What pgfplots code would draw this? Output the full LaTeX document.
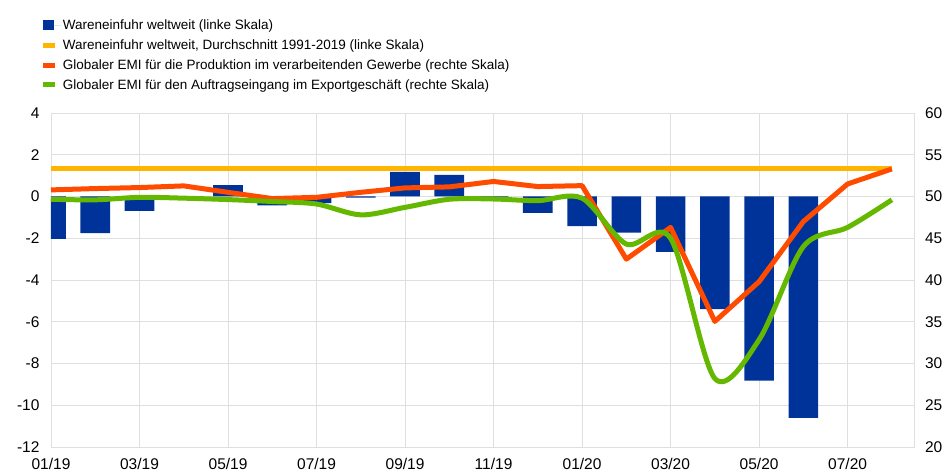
\documentclass[border=0pt]{standalone}
\usepackage{fontspec}
\setmainfont{Liberation Sans}
\usepackage{pgfplots}
\pgfplotsset{compat=1.18}

\definecolor{ecbblue}{RGB}{0,51,153}
\definecolor{ecbyellow}{RGB}{255,180,0}
\definecolor{ecborange}{RGB}{255,75,0}
\definecolor{ecbgreen}{RGB}{101,184,0}

\pgfplotsset{
  ecb/.style={
    scale only axis, width=863pt, height=334pt,
    xmin=0, xmax=19.5,
    tick style={draw=none},
    tick label style={font=\fontsize{15.5}{17}\selectfont},
    xticklabel style={yshift=-8pt},
    /pgf/number format/assume math mode=true,
  },
}

\begin{document}
\begin{tikzpicture}
\useasboundingbox (-51pt,-26pt) rectangle (894pt,447pt);
% left scale: imports (bars) and long-run average
\begin{axis}[ecb,
    ymin=-12, ymax=4, ytick={-12,-10,...,4},
    yticklabel style={xshift=-8pt},
    xtick={0,2,...,18},
    xticklabels={01/19,03/19,05/19,07/19,09/19,11/19,01/20,03/20,05/20,07/20},
    grid=major, grid style={gray!25, line width=0.8pt},
    axis line style={gray!25, line width=0.8pt},
    legend style={at={(-0.016,1.292)}, anchor=north west, draw=none, fill=none,
      font=\fontsize{13.5}{16}\selectfont, row sep=4.6pt},
    legend cell align=left,
  ]
  \addplot[ybar, bar width=0.67, fill=ecbblue, draw=none,
    legend image code/.code={\path[draw=none] (0pt,0pt) -- (18pt,0pt);
      \fill[ecbblue] (0pt,-5pt) rectangle (11pt,5.5pt);}]
    coordinates {(0,-2.03) (1,-1.76) (2,-0.69) (3,-0.05) (4,0.54) (5,-0.42)
      (6,-0.32) (7,-0.05) (8,1.18) (9,1.03) (10,-0.10) (11,-0.79) (12,-1.42)
      (13,-1.73) (14,-2.65) (15,-5.39) (16,-8.82) (17,-10.61)};
  \addlegendentry{Wareneinfuhr weltweit (linke Skala)}
  \addplot[ecbyellow, line width=5pt,
    legend image code/.code={\path[draw=none] (0pt,0pt) -- (18pt,0pt);
      \draw[ecbyellow, line width=5pt] (0pt,0pt) -- (12pt,0pt);}]
    coordinates {(0,1.35) (19,1.35)};
  \addlegendentry{Wareneinfuhr weltweit, Durchschnitt 1991-2019 (linke Skala)}
  \addlegendimage{legend image code/.code={\path[draw=none] (0pt,0pt) -- (18pt,0pt);
      \draw[ecborange, line width=5pt] (0pt,0pt) -- (12pt,0pt);}}
  \addlegendentry{Globaler EMI für die Produktion im verarbeitenden Gewerbe (rechte Skala)}
  \addlegendimage{legend image code/.code={\path[draw=none] (0pt,0pt) -- (18pt,0pt);
      \draw[ecbgreen, line width=5pt] (0pt,0pt) -- (12pt,0pt);}}
  \addlegendentry{Globaler EMI für den Auftragseingang im Exportgeschäft (rechte Skala)}
\end{axis}
% right scale: PMIs
\begin{axis}[ecb,
    ymin=20, ymax=60, ytick={20,25,...,60},
    yticklabel style={xshift=7.5pt},
    axis x line=none, axis y line*=right,
    y axis line style={draw=none},
  ]
  \addplot[ecborange, line width=5pt, line join=round]
    coordinates {(0,50.79) (1,50.95) (2,51.07) (3,51.27) (4,50.5) (5,49.75)
      (6,49.9) (7,50.5) (8,51.03) (9,51.15) (10,51.8) (11,51.19) (12,51.3)
      (13,42.5) (14,46.3) (15,35.04) (16,39.8) (17,47.0) (18,51.5) (19,53.3)};
  \addplot[ecbgreen, line width=5pt, smooth]
    coordinates {(0,49.67) (1,49.6) (2,49.9) (3,49.8) (4,49.63) (5,49.4)
      (6,49.1) (7,47.8) (8,48.7) (9,49.67) (10,49.7) (11,49.5) (12,49.8)
      (13,44.3) (14,45.0) (15,28.2) (16,32.85) (17,44.0) (18,46.3) (19,49.6)};
\end{axis}
\end{tikzpicture}
\end{document}
